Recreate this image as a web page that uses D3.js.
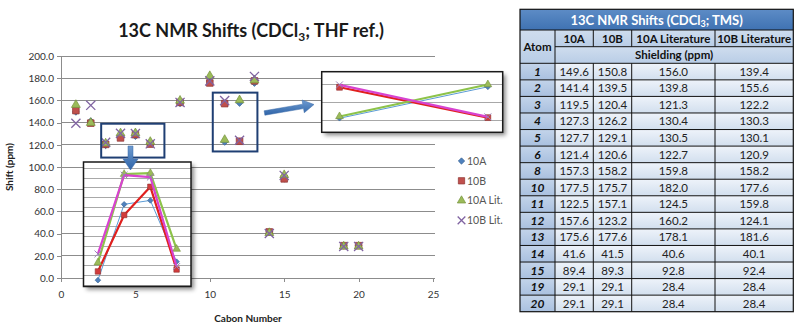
<!DOCTYPE html>
<html><head><meta charset="utf-8">
<script src="https://cdn.jsdelivr.net/npm/d3@7"></script>
<style>
html,body{margin:0;padding:0;background:#fff;}
svg{display:block;font-family:Lato,"Open Sans",sans-serif;}
</style></head>
<body><div id="chart"></div>
<script>
// ---- data ----
const atoms   = [1,2,3,4,5,6,8,10,11,12,13,14,15,19,20];
const s10A    = [149.6,141.4,119.5,127.3,127.7,121.4,157.3,177.5,122.5,157.6,175.6,41.6,89.4,29.1,29.1];
const s10B    = [150.8,139.5,120.4,126.2,129.1,120.6,158.2,175.7,157.1,123.2,177.6,41.5,89.3,29.1,29.1];
const s10ALit = [156.0,139.8,121.3,130.4,130.5,122.7,159.8,182.0,124.5,160.2,178.1,40.6,92.8,28.4,28.4];
const s10BLit = [139.4,155.6,122.2,130.3,130.1,120.9,158.2,177.6,159.8,124.1,181.6,40.1,92.4,28.4,28.4];
const seriesNames = ["10A","10B","10A Lit.","10B Lit."];
const tableCols = ["10A","10B","10A Literature","10B Literature"];
const yTicks = [0,20,40,60,80,100,120,140,160,180,200];
const xTicks = [0,5,10,15,20,25];
const inset1Atoms = [3,4,5,6];
const inset1Grid = [119,120,121,122,123,124,125,126,127,128,129,130,131];
const inset2Atoms = [11,12];
const inset2Grid = [120,140,160];

const seriesVals = [s10A,s10B,s10ALit,s10BLit];
const markerCol = ["#4F81BD","#C0504D","#9BBB59","#8064A2"];
const markerStroke = ["#3A6594","#8E3330","#76923C","#8064A2"];
const lineCol = ["#5B9BD5","#E0201E","#8DC34A","#D743D0"];
const lineW = [1,2.2,2.2,2.2];

const W=800,H=331;
const svg=d3.select("#chart").append("svg").attr("width",W).attr("height",H);
svg.append("rect").attr("width",W).attr("height",H).attr("fill","#fff");
const defs=svg.append("defs");
const f=defs.append("filter").attr("id","shadow").attr("x","-10%").attr("y","-10%").attr("width","130%").attr("height","130%");
f.append("feDropShadow").attr("dx",3).attr("dy",3).attr("stdDeviation",2).attr("flood-color","#000").attr("flood-opacity",0.45);
const ag=defs.append("linearGradient").attr("id","arrowGrad").attr("x1",0).attr("y1",0).attr("x2",0).attr("y2",1);
ag.append("stop").attr("offset",0).attr("stop-color","#6E9BD0");
ag.append("stop").attr("offset",1).attr("stop-color","#2F64A8");

function symPath(i,size){
  const types=[d3.symbolSquare,d3.symbolSquare,d3.symbolTriangle,(d3.symbolTimes||d3.symbolX)];
  return d3.symbol().type(types[i]).size(size)();
}
const symSize=[22,44,34,56];

// ---- main chart ----
const x=d3.scaleLinear().domain([0,25]).range([61,433]);
const y=d3.scaleLinear().domain([0,200]).range([278,56]);

svg.append("g").selectAll("line").data(yTicks).join("line")
  .attr("x1",x(0)).attr("x2",x(25)+2).attr("y1",d=>y(d)).attr("y2",d=>y(d))
  .attr("stroke","#8C8C8C").attr("stroke-width",1).attr("shape-rendering","crispEdges");

const yAxis=svg.append("g").attr("transform",`translate(${x(0)},0)`)
  .call(d3.axisLeft(y).tickValues(yTicks).tickFormat(d3.format(".1f")).tickSize(4).tickPadding(3));
const xAxis=svg.append("g").attr("transform",`translate(0,${y(0)})`)
  .call(d3.axisBottom(x).tickValues(xTicks).tickFormat(d3.format("d")).tickSize(4).tickPadding(9));
[yAxis,xAxis].forEach(a=>{
  a.selectAll("path").attr("stroke","#8C8C8C").attr("shape-rendering","crispEdges");
  a.selectAll("line").attr("stroke","#8C8C8C").attr("shape-rendering","crispEdges");
  a.selectAll("text").attr("fill","#333").style("font-size","10px").style("font-family","Lato,sans-serif");
});

// title
const t=svg.append("text").attr("x",251).attr("y",37).attr("text-anchor","middle")
  .style("font-size","18px").style("font-weight","bold").attr("fill","#1a1a1a");
t.append("tspan").text("13C NMR Shifts (CDCl");
t.append("tspan").text("3").style("font-size","12px").attr("dy",4);
t.append("tspan").text("; THF ref.)").attr("dy",-4);

svg.append("text").attr("transform","translate(13,167) rotate(-90)").attr("text-anchor","middle")
  .style("font-size","10px").style("font-weight","bold").attr("fill","#222").text("Shift (ppm)");
svg.append("text").attr("x",248).attr("y",322).attr("text-anchor","middle")
  .style("font-size","10px").style("font-weight","bold").attr("fill","#222").text("Cabon Number");

function markerTransform(i,cx,cy){ return `translate(${cx},${cy})`+(i===0?" rotate(45)":""); }
function drawMarker(g,i,cx,cy,size){
  const p=g.append("path").attr("d",symPath(i,size)).attr("transform",markerTransform(i,cx,cy));
  if(i===3) p.attr("fill","none").attr("stroke",markerCol[i]).attr("stroke-width",1.3);
  else p.attr("fill",markerCol[i]).attr("stroke",markerStroke[i]).attr("stroke-width",0.7);
  return p;
}
seriesVals.forEach((vals,i)=>{
  const g=svg.append("g");
  atoms.forEach((a,j)=>drawMarker(g,i,x(a),y(vals[j]),symSize[i]));
});

// selection boxes
svg.append("rect").attr("x",x(2.7)).attr("y",y(139)).attr("width",x(6.95)-x(2.7)).attr("height",y(108.5)-y(139))
  .attr("fill","none").attr("stroke","#1F3F73").attr("stroke-width",2);
svg.append("rect").attr("x",x(10.2)).attr("y",y(167)).attr("width",x(13.2)-x(10.2)).attr("height",y(114)-y(167))
  .attr("fill","none").attr("stroke","#1F3F73").attr("stroke-width",2);

// ---- inset helper ----
function inset(box,xs,ys,atomList,grid,ms,clipId){
  const g=svg.append("g");
  g.append("rect").attr("x",box.x0).attr("y",box.y0).attr("width",box.x1-box.x0).attr("height",box.y1-box.y0)
    .attr("fill","#fff").attr("filter","url(#shadow)");
  defs.append("clipPath").attr("id",clipId).append("rect")
    .attr("x",box.x0).attr("y",box.y0).attr("width",box.x1-box.x0).attr("height",box.y1-box.y0);
  const c=g.append("g").attr("clip-path",`url(#${clipId})`);
  c.selectAll("line").data(grid).join("line")
    .attr("x1",box.x0).attr("x2",box.x1).attr("y1",d=>ys(d)).attr("y2",d=>ys(d))
    .attr("stroke","#A8A8A8").attr("stroke-width",1).attr("shape-rendering","crispEdges");
  const idx=atomList.map(a=>atoms.indexOf(a));
  seriesVals.forEach((vals,i)=>{
    const pts=idx.map((j,k)=>[xs(atomList[k]),ys(vals[j])]);
    c.append("path").attr("d",d3.line()(pts)).attr("fill","none")
      .attr("stroke",lineCol[i]).attr("stroke-width",lineW[i]).attr("stroke-linejoin","round");
    pts.forEach(p=>{
      const m=c.append("path").attr("d",symPath(i,ms[i])).attr("transform",markerTransform(i,p[0],p[1]));
      if(i===3) m.attr("fill","none").attr("stroke","#9A7FB8").attr("stroke-width",1);
      else m.attr("fill",i===1?"#D23B3B":markerCol[i]).attr("stroke",markerStroke[i]).attr("stroke-width",0.6);
    });
  });
  g.append("rect").attr("x",box.x0).attr("y",box.y0).attr("width",box.x1-box.x0).attr("height",box.y1-box.y0)
    .attr("fill","none").attr("stroke","#1a1a1a").attr("stroke-width",1.5);
}
const box1={x0:83.5,x1:191,y0:162,y1:286.5};
const x1s=d3.scaleLinear().domain([2.45,6.55]).range([box1.x0,box1.x1]);
const y1s=d3.scaleLinear().domain([118.85,131.65]).range([box1.y1,box1.y0]);
inset(box1,x1s,y1s,inset1Atoms,inset1Grid,[16,30,26,32],"clip1");

const box2={x0:321.7,x1:502.7,y0:71.7,y1:132.3};
const x2s=d3.scaleLinear().domain([10.88,12.1]).range([box2.x0,box2.x1]);
const y2s=d3.scaleLinear().domain([106.8,174.5]).range([box2.y1,box2.y0]);
inset(box2,x2s,y2s,inset2Atoms,inset2Grid,[16,34,26,32],"clip2");

// arrows
function arrow(x0,y0,x1,y1,sw,hw,hl){
  const dx=x1-x0,dy=y1-y0,L=Math.hypot(dx,dy),ux=dx/L,uy=dy/L,px=-uy,py=ux;
  const bx=x1-ux*hl,by=y1-uy*hl;
  const pts=[[x0+px*sw/2,y0+py*sw/2],[bx+px*sw/2,by+py*sw/2],[bx+px*hw/2,by+py*hw/2],[x1,y1],
    [bx-px*hw/2,by-py*hw/2],[bx-px*sw/2,by-py*sw/2],[x0-px*sw/2,y0-py*sw/2]];
  svg.append("path").attr("d",d3.line()(pts)+"Z").attr("fill","url(#arrowGrad)").attr("stroke","#3B6BA8").attr("stroke-width",0.5);
}
arrow(130.5,146,130.5,170,5,15,11);
arrow(264.5,113,314,104.5,4.5,13,11);

// legend
const lg=svg.append("g");
seriesNames.forEach((n,i)=>{
  const ly=161+i*19.8;
  drawMarker(lg,i,461.5,ly,[20,40,30,40][i]);
  lg.append("text").attr("x",467).attr("y",ly+3.7).style("font-size","10.5px").attr("fill","#555").text(n);
});

// ---- table ----
const tx=[520,555,593.3,631.7,715,793.3];
const rowTop=63.3,rowH=16.56;
const tg=svg.append("g");
const grad=(id,c0,c1)=>{const g=defs.append("linearGradient").attr("id",id).attr("x1",0).attr("y1",0).attr("x2",0).attr("y2",1);
  g.append("stop").attr("offset",0).attr("stop-color",c0);g.append("stop").attr("offset",1).attr("stop-color",c1);};
grad("gTitle","#5D8CC6","#3F72B2");
grad("gHead","#CFDDEE","#B9CDE6");
grad("gAtom","#C3D4EA","#A9C0DF");
grad("gCell","#EEF3FA","#D2DFEE");
tg.append("rect").attr("x",tx[0]).attr("y",9.3).attr("width",tx[5]-tx[0]).attr("height",30-9.3).attr("fill","url(#gTitle)");
const tt=tg.append("text").attr("x",(tx[0]+tx[5])/2).attr("y",25).attr("text-anchor","middle")
  .style("font-size","13px").style("font-weight","bold").attr("fill","#fff");
tt.append("tspan").text("13C NMR Shifts (CDCl");
tt.append("tspan").text("3").style("font-size","9px").attr("dy",2);
tt.append("tspan").text("; TMS)").attr("dy",-2);
tg.append("rect").attr("x",tx[0]).attr("y",30).attr("width",tx[1]-tx[0]).attr("height",rowTop-30).attr("fill","url(#gHead)");
tg.append("text").attr("x",(tx[0]+tx[1])/2).attr("y",50.5).attr("text-anchor","middle")
  .style("font-size","11.5px").style("font-weight","bold").attr("fill","#111").text("Atom");
tableCols.forEach((c,k)=>{
  tg.append("rect").attr("x",tx[k+1]).attr("y",30).attr("width",tx[k+2]-tx[k+1]).attr("height",16.7).attr("fill","url(#gHead)");
  tg.append("text").attr("x",(tx[k+1]+tx[k+2])/2).attr("y",42.5).attr("text-anchor","middle")
    .style("font-size","11.5px").style("font-weight","bold").attr("fill","#111").text(c);
});
tg.append("rect").attr("x",tx[1]).attr("y",46.7).attr("width",tx[5]-tx[1]).attr("height",16.6).attr("fill","url(#gHead)");
tg.append("text").attr("x",(tx[1]+tx[5])/2).attr("y",59.2).attr("text-anchor","middle")
  .style("font-size","11.5px").style("font-weight","bold").attr("fill","#111").text("Shielding (ppm)");
atoms.forEach((a,r)=>{
  const ry=rowTop+r*rowH;
  tg.append("rect").attr("x",tx[0]).attr("y",ry).attr("width",tx[1]-tx[0]).attr("height",rowH).attr("fill","url(#gAtom)");
  tg.append("text").attr("x",(tx[0]+tx[1])/2).attr("y",ry+12.5).attr("text-anchor","middle")
    .style("font-size","12px").style("font-weight","bold").style("font-style","italic").attr("fill","#111").text(a);
  seriesVals.forEach((vals,k)=>{
    tg.append("rect").attr("x",tx[k+1]).attr("y",ry).attr("width",tx[k+2]-tx[k+1]).attr("height",rowH).attr("fill","url(#gCell)");
    tg.append("text").attr("x",(tx[k+1]+tx[k+2])/2).attr("y",ry+12.5).attr("text-anchor","middle")
      .style("font-size","11.5px").attr("fill","#222").text(vals[r].toFixed(1));
  });
});
const lines=[];
[30,46.7].forEach(yy=>lines.push([tx[0],yy,tx[5],yy]));
lines[1][0]=tx[1];
atoms.forEach((a,r)=>{const yy=rowTop+r*rowH;lines.push([tx[0],yy,tx[5],yy]);});
tx.slice(1,5).forEach((xx,k)=>{
  if(k===0) lines.push([xx,30,xx,rowTop+atoms.length*rowH]);
  else { lines.push([xx,30,xx,46.7]); lines.push([xx,rowTop,xx,rowTop+atoms.length*rowH]); }
});
tg.selectAll("line.b").data(lines).join("line").attr("x1",d=>d[0]).attr("y1",d=>d[1]).attr("x2",d=>d[2]).attr("y2",d=>d[3])
  .attr("stroke","#111").attr("stroke-width",1);
tg.append("rect").attr("x",tx[0]).attr("y",9.3).attr("width",tx[5]-tx[0]).attr("height",rowTop+atoms.length*rowH-9.3)
  .attr("fill","none").attr("stroke","#111").attr("stroke-width",1.2);
</script></body></html>
